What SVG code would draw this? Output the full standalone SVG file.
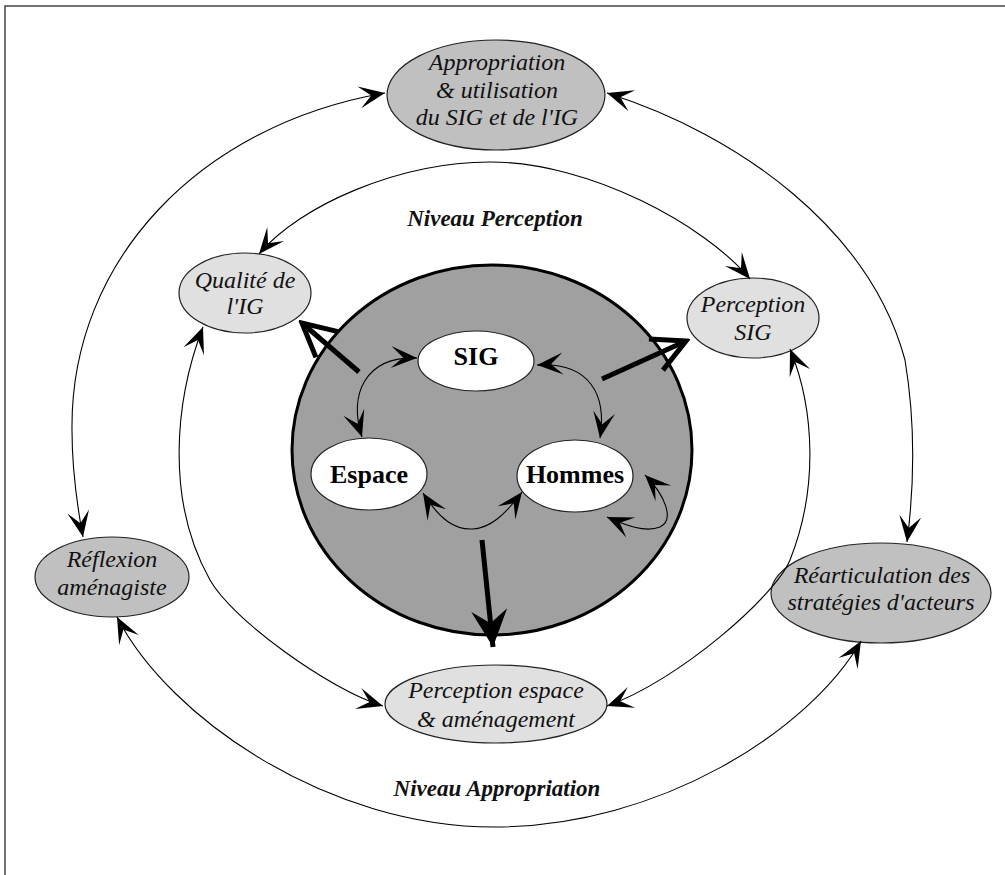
<svg xmlns="http://www.w3.org/2000/svg" width="1005" height="875" viewBox="0 0 1005 875">
<style>
.lbl{font-family:"Liberation Serif","Times New Roman",serif;font-style:italic;font-size:24px;fill:#111;text-anchor:middle}
.lvl{font-family:"Liberation Serif","Times New Roman",serif;font-style:italic;font-weight:bold;font-size:23px;fill:#111;text-anchor:middle}
.core{font-family:"Liberation Serif","Times New Roman",serif;font-weight:bold;font-size:26px;fill:#000;text-anchor:middle}
.n1{fill:#c0c0c0;stroke:#222;stroke-width:1.2}
.n2{fill:#e0e0e0;stroke:#222;stroke-width:1.2}
.n3{fill:#fff;stroke:#222;stroke-width:1.2}
.thin{fill:none;stroke:#000;stroke-width:1.1;marker-start:url(#ah);marker-end:url(#ah)}
.thick{fill:none;stroke:#000;stroke-width:5}
</style>
<defs>
<marker id="ah" viewBox="-28 -13 30 26" refX="0" refY="0" markerWidth="30" markerHeight="26" markerUnits="userSpaceOnUse" orient="auto-start-reverse">
<path d="M0,0 L-26,-11 L-14,0 L-26,11 Z" fill="#000"/>
</marker>
<marker id="vh" viewBox="-40 -22 44 44" refX="0" refY="0" markerWidth="44" markerHeight="44" markerUnits="userSpaceOnUse" orient="auto">
<path d="M-33,-17 L0,0 L-33,17" fill="none" stroke="#000" stroke-width="5" stroke-linejoin="miter"/>
</marker>
<marker id="sh" viewBox="-40 -22 44 44" refX="0" refY="0" markerWidth="44" markerHeight="44" markerUnits="userSpaceOnUse" orient="auto">
<path d="M0,0 L-37,-18 L-24,0 L-37,18 Z" fill="#000"/>
</marker>
</defs>
<rect x="5" y="6" width="1010" height="880" fill="#fff" stroke="#444" stroke-width="1.5"/>

<g id="noyau">
<ellipse cx="492" cy="450" rx="200" ry="185" fill="#a0a0a0" stroke="#000" stroke-width="3"/>
</g>

<g id="appropriation">
<ellipse class="n1" cx="496" cy="95" rx="109" ry="55"/>
<text class="lbl" x="497" y="70">Appropriation</text>
<text class="lbl" x="497" y="98">&amp; utilisation</text>
<text class="lbl" x="497" y="125">du SIG et de l'IG</text>
</g>
<g id="qualite">
<ellipse class="n2" cx="245" cy="293" rx="66" ry="40"/>
<text class="lbl" x="245" y="288">Qualité de</text>
<text class="lbl" x="245" y="314">l'IG</text>
</g>
<g id="perception-sig">
<ellipse class="n2" cx="753" cy="318" rx="66" ry="40"/>
<text class="lbl" x="753" y="312">Perception</text>
<text class="lbl" x="753" y="340">SIG</text>
</g>
<g id="reflexion">
<ellipse class="n1" cx="112" cy="577" rx="77" ry="40"/>
<text class="lbl" x="112" y="567">Réflexion</text>
<text class="lbl" x="112" y="595">aménagiste</text>
</g>
<g id="rearticulation">
<ellipse class="n1" cx="881" cy="593" rx="110" ry="50"/>
<text class="lbl" x="882" y="583">Réarticulation des</text>
<text class="lbl" x="881" y="610">stratégies d'acteurs</text>
</g>
<g id="perception-espace">
<ellipse class="n2" cx="496" cy="704" rx="111" ry="39"/>
<text class="lbl" x="496" y="698">Perception espace</text>
<text class="lbl" x="496" y="727">&amp; aménagement</text>
</g>
<g id="sig">
<ellipse class="n3" cx="476" cy="361" rx="58" ry="30"/>
<text class="core" x="476" y="365">SIG</text>
</g>
<g id="espace">
<ellipse class="n3" cx="369" cy="474" rx="58" ry="36"/>
<text class="core" x="369" y="483">Espace</text>
</g>
<g id="hommes">
<ellipse class="n3" cx="575" cy="476" rx="58" ry="36"/>
<text class="core" x="575" y="483">Hommes</text>
</g>
<g id="niveaux">
<text class="lvl" x="495" y="226">Niveau Perception</text>
<text class="lvl" x="497" y="796">Niveau Appropriation</text>
</g>

<g id="connecteurs">
<path class="thin" d="M385,93 C200,125 70,260 72,430 C72,470 77,505 83,537"/>
<path class="thin" d="M607,93 C740,135 870,230 905,360 C915,420 915,480 907,542"/>
<path class="thin" d="M117,617 C170,720 330,827 494,827 C660,827 810,730 861,641"/>
<path class="thin" d="M259,254 C300,205 400,162 490,162 C590,162 705,225 750,279"/>
<path class="thin" d="M203,327 C175,400 165,500 210,580 C232.5,620 330,690 383,706"/>
<path class="thin" d="M790,349 C815,410 818,490 790,560 C776,595 680,680 607,706"/>
<path class="thin" d="M417,358 C365,356 348,395 362,437"/>
<path class="thin" d="M537,365 C590,362 607,395 600,438"/>
<path class="thin" d="M423,493 C440,520 455,530 473,529 C490,528 505,515 522,492"/>
<path class="thin" d="M645,475 C665,495 675,520 660,527 C645,533 625,525 607,517"/>
<path class="thick" d="M359,372 L302,323" marker-end="url(#vh)"/>
<path class="thick" d="M602,379 L686,341" marker-end="url(#vh)"/>
<path class="thick" stroke-width="4" d="M482,540 L493,647" marker-end="url(#sh)"/>
</g>
</svg>
